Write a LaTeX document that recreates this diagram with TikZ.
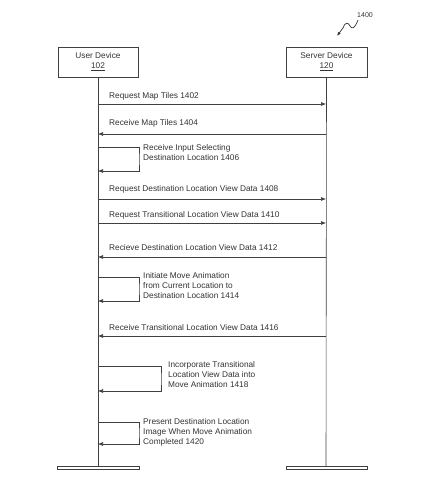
\documentclass[tikz,border=0pt]{standalone}
\usepackage{fontspec}
\setmainfont{Liberation Sans}
\usetikzlibrary{arrows.meta}
\begin{document}
\begin{tikzpicture}[x=1pt,y=1pt,
  line/.style={draw=black!75,line width=0.6pt},
  msg/.style={line,-{Latex[length=5pt,width=4pt]}},
  txt/.style={font=\fontsize{8.3}{10}\selectfont,text=black!80},
  actor/.style={line,txt,minimum width=80pt,minimum height=30pt,inner sep=0pt,align=center},
  lbl/.style={txt,inner sep=0pt,anchor=west},
  blk/.style={txt,inner sep=0pt,anchor=north west,align=left},
  bar/.style={line,fill=white,minimum height=3pt,inner sep=0pt}]
\useasboundingbox (0,0) rectangle (431,502);
% actors
\node[actor] (ud) at (98,440) {User Device\\\underline{102}};
\node[actor,minimum width=81pt] (sd) at (326.5,440) {Server Device\\\underline{120}};
% lifelines
\coordinate (ue) at (98,36);
\coordinate (se) at (326,36);
\draw[line] (ud.south) -- (ue);
\draw[line] (sd.south) -- (se);
\node[bar,minimum width=82pt] (ub) at (98,34.5) {};
\node[bar,minimum width=81pt] (sb) at (326.5,34.5) {};
% ref label
\node[inner sep=0pt,font=\fontsize{7}{8}\selectfont,text=black!80] (ref) at (365,487) {1400};
\coordinate (refa) at (358,482);
\coordinate (refb) at (337,466);
\draw[draw=black!80,line width=0.7pt,-{Latex[length=4pt,width=3pt]}] (refa) .. controls (355,474) and (352,472) .. (350,476) .. controls (348,480) and (345,480) .. (343,474) -- (refb);
% messages
\coordinate (u1) at (98,398); \coordinate (s1) at (326,398);
\draw[msg] (u1) -- (s1);
\node[lbl] (t1) at (109,406) {Request Map Tiles 1402};
\coordinate (u2) at (98,368); \coordinate (s2) at (326,368);
\draw[msg] (s2) -- (u2);
\node[lbl] (t2) at (109,379) {Receive Map Tiles 1404};
% loop 1406
\coordinate (u3a) at (98,355); \coordinate (u3b) at (98,331);
\draw[msg] (u3a) -| (139,343) |- (u3b);
\node[blk] (t3) at (143,358) {Receive Input Selecting\\Destination Location 1406};
\coordinate (u4) at (98,303); \coordinate (s4) at (326,303);
\draw[msg] (u4) -- (s4);
\node[lbl] (t4) at (109,313) {Request Destination Location View Data 1408};
\coordinate (u5) at (98,279); \coordinate (s5) at (326,279);
\draw[msg] (u5) -- (s5);
\node[lbl] (t5) at (109,287) {Request Transitional Location View Data 1410};
\coordinate (u6) at (98,245); \coordinate (s6) at (326,245);
\draw[msg] (s6) -- (u6);
\node[lbl] (t6) at (109,254) {Recieve Destination Location View Data 1412};
% loop 1414
\coordinate (u7a) at (98,225); \coordinate (u7b) at (98,201);
\draw[msg] (u7a) -| (139,213) |- (u7b);
\node[blk] (t7) at (143,230) {Initiate Move Animation\\from Current Location to\\Destination Location 1414};
\coordinate (u8) at (98,166); \coordinate (s8) at (326,166);
\draw[msg] (s8) -- (u8);
\node[lbl] (t8) at (109,174) {Receive Transitional Location View Data 1416};
% loop 1418
\coordinate (u9a) at (98,136); \coordinate (u9b) at (98,111);
\draw[msg] (u9a) -| (161,123) |- (u9b);
\node[blk] (t9) at (168,141) {Incorporate Transitional\\Location View Data into\\Move Animation 1418};
% loop 1420
\coordinate (u10a) at (98,80); \coordinate (u10b) at (98,58);
\draw[msg] (u10a) -| (139,69) |- (u10b);
\node[blk] (t10) at (143,84) {Present Destination Location\\Image When Move Animation\\Completed 1420};
\end{tikzpicture}
\end{document}
